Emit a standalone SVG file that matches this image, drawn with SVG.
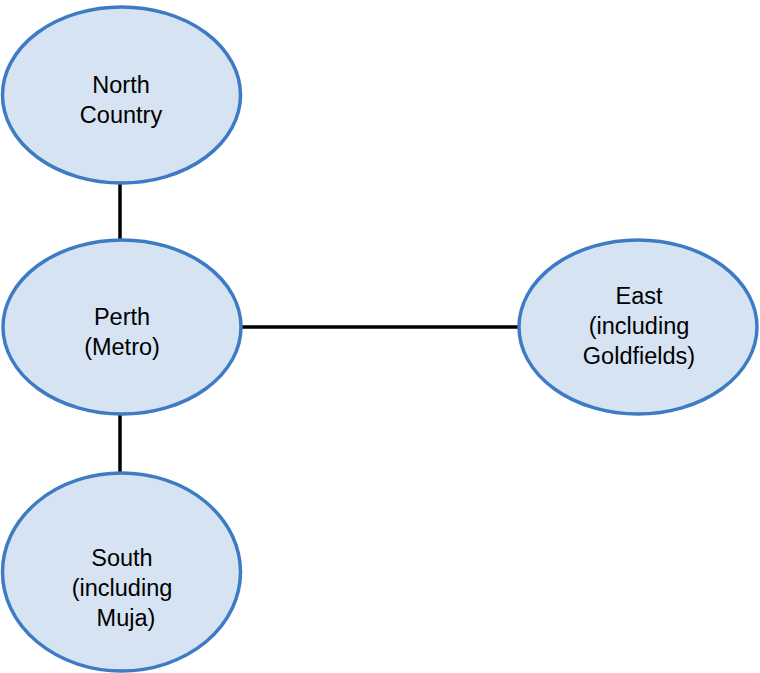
<svg xmlns="http://www.w3.org/2000/svg" width="760" height="673" viewBox="0 0 760 673">
<style>
.node{fill:#d6e3f3;stroke:#3d7bc4;stroke-width:3.5}
.lbl{font-family:"Liberation Sans",Arial,sans-serif;font-size:23.5px;fill:#000;text-anchor:middle}
.conn{stroke:#000;stroke-width:3.5;fill:none}
</style>
<rect width="760" height="673" fill="#fff"/>
<g id="connectors">
<line class="conn" x1="120" y1="184" x2="120" y2="240"/>
<line class="conn" x1="120" y1="414" x2="120" y2="474"/>
<line class="conn" x1="242" y1="327" x2="518" y2="327"/>
</g>
<g id="north">
<ellipse class="node" cx="121.5" cy="95" rx="119" ry="88"/>
<text class="lbl" x="121" y="93">North</text>
<text class="lbl" x="121" y="123">Country</text>
</g>
<g id="perth">
<ellipse class="node" cx="122" cy="327" rx="119" ry="87"/>
<text class="lbl" x="122" y="325">Perth</text>
<text class="lbl" x="122" y="355">(Metro)</text>
</g>
<g id="east">
<ellipse class="node" cx="638" cy="327" rx="119" ry="87"/>
<text class="lbl" x="639" y="304">East</text>
<text class="lbl" x="639" y="334">(including</text>
<text class="lbl" x="639" y="364">Goldfields)</text>
</g>
<g id="south">
<ellipse class="node" cx="121.5" cy="572" rx="119" ry="99"/>
<text class="lbl" x="122" y="566">South</text>
<text class="lbl" x="122" y="596">(including</text>
<text class="lbl" x="126" y="626">Muja)</text>
</g>
</svg>
